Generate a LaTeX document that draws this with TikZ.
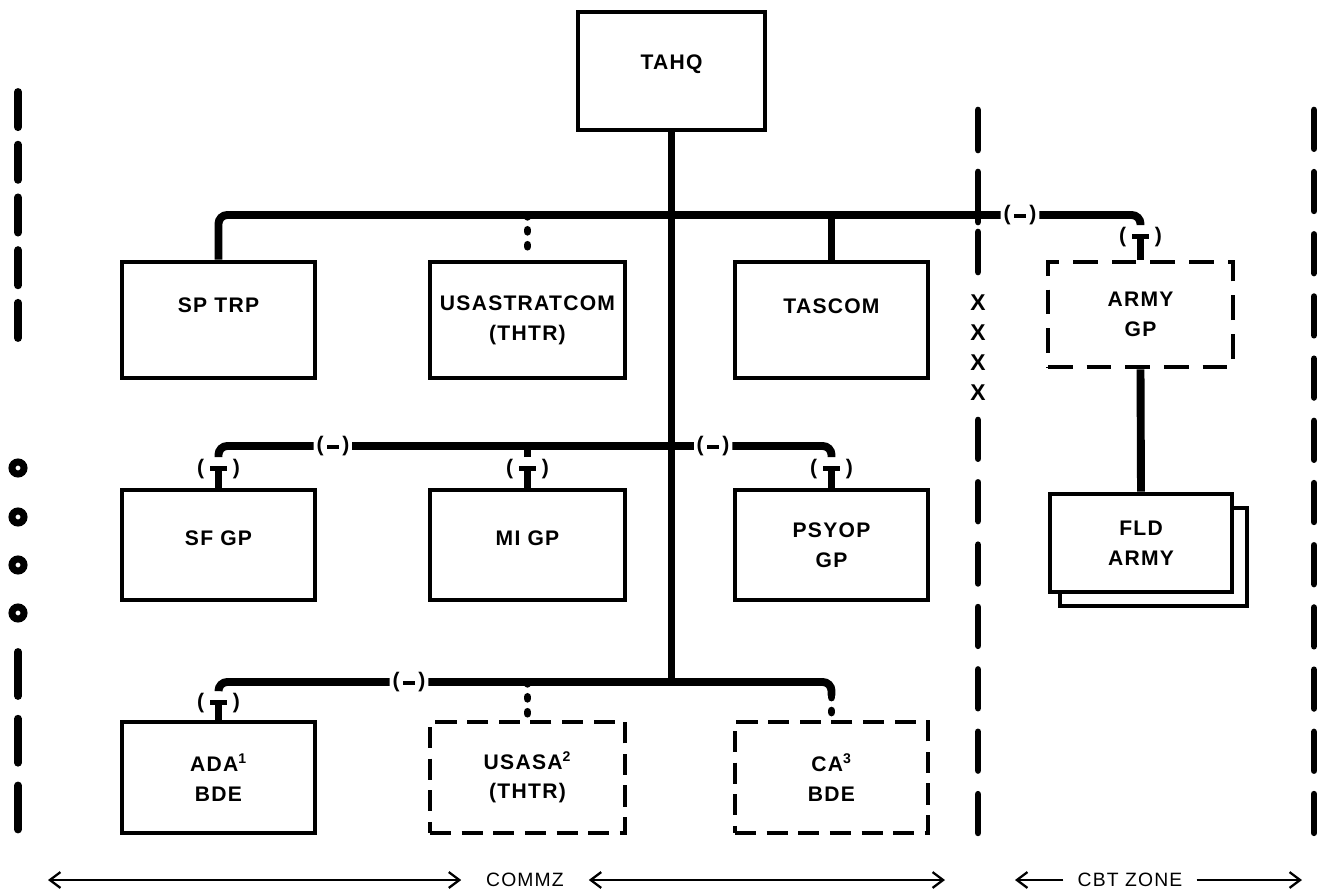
\documentclass[tikz,border=0pt]{standalone}
\usepackage{fontspec}
\setmainfont{Liberation Sans}
\newfontfamily\lblfont[LetterSpace=6]{Liberation Sans}
\usetikzlibrary{arrows.meta,calc}

\tikzset{
	orgbox/.style={draw, line width=2.6pt, minimum width=3.86cm, align=center, inner sep=2pt,
		font=\lblfont\bfseries\fontsize{12}{17}\selectfont},
	dashbox/.style={orgbox, dash pattern=on 12pt off 6pt},
	raisetext/.style={text depth=#1},
	link/.style={line width=4.5pt, rounded corners=5pt},
	dotlink/.style={line width=4.5pt, line cap=round, dash pattern=on 1pt off 7.5pt},
	hcut/.style={inner sep=1.5pt, font=\bfseries\fontsize{12}{14}\selectfont},
	vcut/.style={inner sep=1pt, font=\bfseries\fontsize{12}{14}\selectfont},
	zone/.style={line width=3.8pt, line cap=round},
	zonearrow/.style={line width=1.3pt},
	zonetext/.style={inner xsep=14pt, font=\lblfont\fontsize{11}{13}\selectfont},
}
\newcommand{\hmark}{(\,\rule[.25ex]{.55em}{2.2pt}\,)}
\newcommand{\vmark}{(\;\rule[.35ex]{.8em}{2.6pt}\;)}

\begin{document}
\begin{tikzpicture}[x=0.02cm, y=-0.02cm]
	\useasboundingbox (0,0) rectangle (1323,896);

	% headquarters and units
	\node[orgbox, minimum width=3.74cm, minimum height=2.36cm, raisetext=0.36cm] (tahq) at (671.5,71) {TAHQ};

	\node[orgbox, minimum height=2.32cm, raisetext=0.6cm] (sptrp) at (218.5,320) {SP TRP};
	\node[orgbox, minimum width=3.9cm, minimum height=2.32cm] (strat) at (527.5,320) {USASTRATCOM\\(THTR)};
	\node[orgbox, minimum height=2.32cm, raisetext=0.56cm] (tascom) at (831.5,320) {TASCOM};

	\node[orgbox, minimum height=2.2cm, raisetext=0.28cm] (sfgp) at (218.5,545) {SF GP};
	\node[orgbox, minimum width=3.9cm, minimum height=2.2cm, raisetext=0.28cm] (migp) at (527.5,545) {MI GP};
	\node[orgbox, minimum height=2.2cm] (psyop) at (831.5,545) {PSYOP\\GP};

	\node[orgbox, minimum height=2.22cm] (ada) at (218.5,777.5) {ADA\textsuperscript{1}\\BDE};
	\node[dashbox, minimum width=3.9cm, minimum height=2.22cm] (usasa) at (527.5,777.5) {USASA\textsuperscript{2}\\(THTR)};
	\node[dashbox, minimum height=2.22cm] (cabde) at (831.5,777.5) {CA\textsuperscript{3}\\BDE};

	\node[dashbox, minimum width=3.7cm, minimum height=2.1cm, dash pattern=on 14pt off 8pt] (armygp) at (1140.5,314.5) {ARMY\\GP};
	\draw[line width=2.6pt] (1060,508) rectangle (1247,606);
	\node[orgbox, fill=white, minimum width=3.64cm, minimum height=1.96cm] (fldarmy) at (1141,543) {FLD\\ARMY};

	% cut marks
	\node[hcut] (topcut) at (1020,215) {\hmark};
	\node[vcut] (armycut) at (1140.5,237) {\vmark};
	\node[hcut] (midcuta) at (333,446) {\hmark};
	\node[hcut] (midcutb) at (713,446) {\hmark};
	\node[vcut] (sfcut) at (218.5,469) {\vmark};
	\node[vcut] (micut) at (527.5,469) {\vmark};
	\node[vcut] (psycut) at (831.5,469) {\vmark};
	\node[hcut] (botcut) at (409,682) {\hmark};
	\node[vcut] (adacut) at (218.5,703) {\vmark};
	\coordinate (caturn) at ($(cabde.north)+(0,-24)$);

	% trunk and bars
	\draw[link] (tahq.south) -- (tahq.south |- botcut);

	\draw[link] (sptrp.north) |- (topcut.west);
	\draw[link] (topcut.east) -| (armycut.north);
	\draw[link] (armycut.center) -- (armygp.north);
	\draw[dotlink] (strat.north |- topcut) -- (strat.north);
	\draw[link] (tascom.north |- topcut) -- (tascom.north);
	\draw[link] (armygp.south) -- (fldarmy.north);

	\draw[link] (sfcut.north) |- (midcuta.west);
	\draw[link] (midcuta.east) -- (midcutb.west);
	\draw[link] (midcutb.east) -| (psycut.north);
	\draw[link] (micut.north) -- (micut.north |- midcuta);
	\draw[link] (sfcut.center) -- (sfgp.north);
	\draw[link] (micut.center) -- (migp.north);
	\draw[link] (psycut.center) -- (psyop.north);

	\draw[link] (adacut.north) |- (botcut.west);
	\draw[link] (botcut.east) -| (caturn);
	\draw[dotlink] (caturn) -- (cabde.north);
	\draw[dotlink] (usasa.north |- botcut) -- (usasa.north);
	\draw[link] (adacut.center) -- (ada.north);

	% boundaries
	\draw[zone, line width=4.5pt, dash pattern=on 20pt off 10pt] (18,92) -- (18,346);
	\foreach \y in {468,517,565,613}
		\draw[line width=4pt] (18,\y) circle[radius=0.12cm];
	\draw[zone, line width=4.5pt, dash pattern=on 25pt off 13pt] (18,652) -- (18,835);

	\foreach \a/\b in {110/150,172/222,232/272}
		\draw[zone] (978,\a) -- (978,\b);
	\foreach \y [count=\i] in {303,333,363,393}
		\node[font=\bfseries\fontsize{13}{14}\selectfont] (xx\i) at (978,\y) {X};
	\draw[zone, dash pattern=on 22pt off 13.5pt] (978,420) -- (978,835);

	\draw[zone, dash pattern=on 22pt off 13.4pt] (1314,110) -- (1314,835);

	% zones
	\node[zonetext] (commz) at (525,880) {COMMZ};
	\node[zonetext, inner xsep=8pt] (cbt) at (1130,880) {CBT ZONE};
	\coordinate (commzl) at (48,880);
	\coordinate (commzr) at (945,880);
	\coordinate (cbtl) at (1015,880);
	\coordinate (cbtr) at (1302,880);
	\draw[zonearrow, {Straight Barb[length=6pt,width=9pt]}-{Straight Barb[length=6pt,width=9pt]}] (commzl) -- (commz.west);
	\draw[zonearrow, {Straight Barb[length=6pt,width=9pt]}-{Straight Barb[length=6pt,width=9pt]}] (commz.east) -- (commzr);
	\draw[zonearrow, -{Straight Barb[length=6pt,width=9pt]}] (cbt.west) -- (cbtl);
	\draw[zonearrow, -{Straight Barb[length=6pt,width=9pt]}] (cbt.east) -- (cbtr);
\end{tikzpicture}
\end{document}
